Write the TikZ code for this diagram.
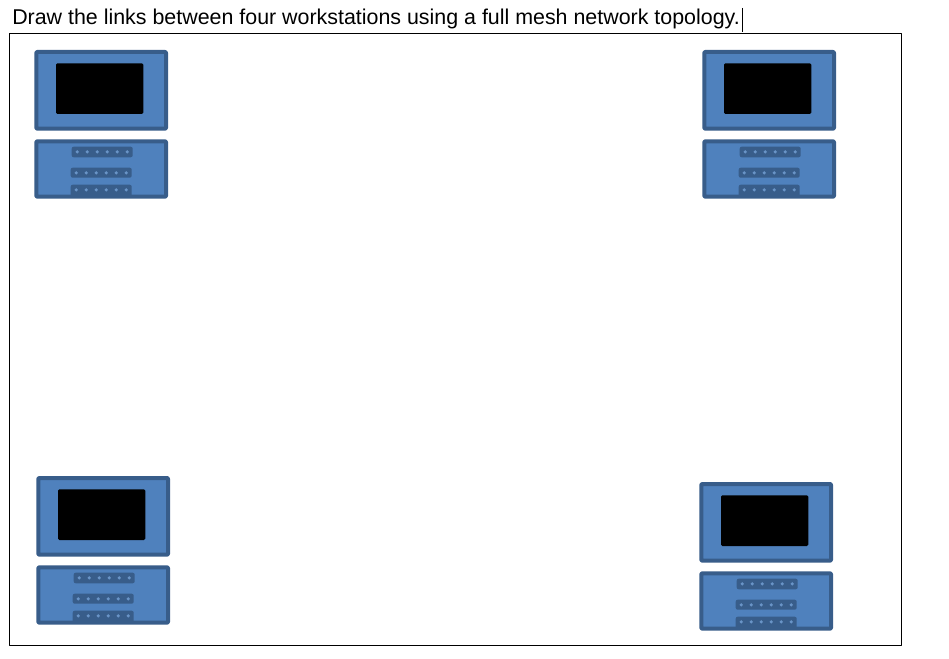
\documentclass[tikz,border=0pt]{standalone}
\usepackage{fontspec}
\setmainfont{Liberation Sans}
\usepackage{tikz}
\begin{document}
\begin{tikzpicture}[x=0.75pt, y=-0.75pt, line join=round]
    \definecolor{pcFill}{RGB}{79,129,189}
    \definecolor{pcEdge}{RGB}{56,93,138}
    \tikzset{
      pcbox/.style={fill=pcFill, draw=pcEdge, line width=3pt, rounded corners=0.6pt},
      pcscreen/.style={fill=black, rounded corners=1pt},
      pcport/.style={fill=pcEdge, rounded corners=1.5pt},
      pcpin/.style={fill=pcFill!85!white},
    }
    \useasboundingbox (0,0) rectangle (949,659);
    \fill[white] (0,0) rectangle (949,659);
    % ==== question and answer frame ====
    \node[anchor=base west, inner sep=0pt, font=\fontsize{16.05pt}{18pt}\selectfont] (question) at (12,25)
      {Draw the links between four workstations using a full mesh network topology.};
    \draw[black, line width=0.6pt] (742,8) -- (742,32);
    \draw[black, line width=0.6pt] (9,33) rectangle (901,645);
    % ==== the four workstations ====
    \foreach \wx/\wy in {35/51, 703/51, 37/477, 700/483}{
      \begin{scope}[shift={(\wx,\wy)}]
        % monitor
        \draw[pcbox] (1.3,1) rectangle (131,77.7);
        \fill[pcscreen] (21,12.3) rectangle (108.3,63);
        % system unit
        \draw[pcbox] (1.3,90.3) rectangle (131,145.7);
        % port rows
        \foreach \rx/\ry/\rh in {36.7/95.7/10.6, 35.7/116.7/10, 35.7/133.7/12}{
          \fill[pcport] (\rx,\ry) rectangle ++(61,\rh);
          \foreach \i in {0,...,5}{
            \fill[pcpin] (\rx+5.5+10*\i,\ry+5.2) circle (1.3pt);
          }
        }
      \end{scope}
    }
\end{tikzpicture}
\end{document}
